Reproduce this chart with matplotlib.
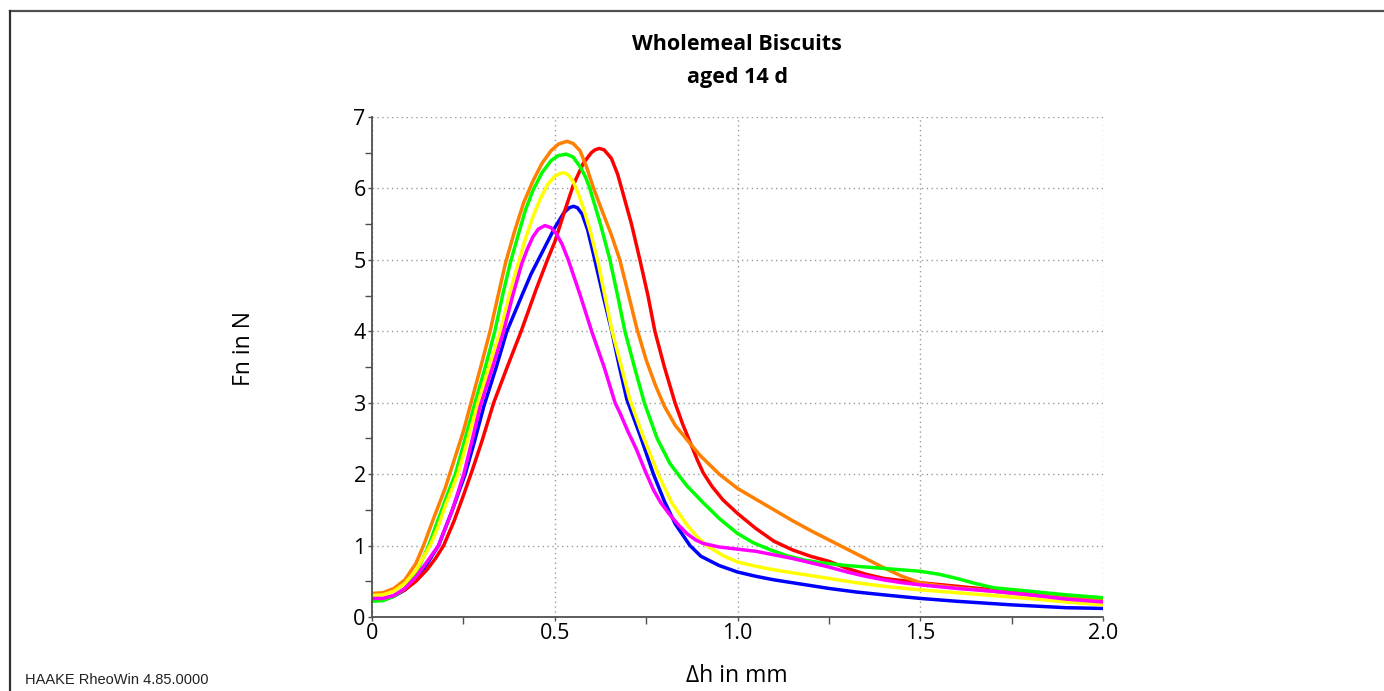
import matplotlib.pyplot as plt
from matplotlib.lines import Line2D
from matplotlib.ticker import MultipleLocator

# Fn vs. deformation curves, one per biscuit sample
orange_x = [0, 0.03, 0.06, 0.09, 0.12, 0.141, 0.17, 0.2, 0.225, 0.25, 0.271, 0.3, 0.323,
            0.345, 0.365, 0.39, 0.415, 0.44, 0.465, 0.49, 0.51, 0.533, 0.55, 0.569, 0.587,
            0.605, 0.63, 0.655, 0.678, 0.7, 0.724, 0.75, 0.775, 0.8, 0.83, 0.87, 0.9,
            0.95, 1.0, 1.05, 1.1, 1.15, 1.2, 1.25, 1.3, 1.35, 1.4, 1.45, 1.5, 1.55, 1.6,
            1.7, 1.8, 1.9, 2.0]
orange_y = [0.33, 0.34, 0.40, 0.52, 0.75, 1.0, 1.4, 1.8, 2.2, 2.6, 3.0, 3.55, 4.0,
            4.5, 4.95, 5.4, 5.8, 6.1, 6.35, 6.53, 6.62, 6.66, 6.63, 6.53, 6.3,
            6.02, 5.68, 5.35, 5.0, 4.55, 4.05, 3.6, 3.25, 2.95, 2.68, 2.43, 2.25,
            2.0, 1.8, 1.65, 1.5, 1.35, 1.21, 1.08, 0.95, 0.82, 0.69, 0.57, 0.48, 0.44, 0.41,
            0.36, 0.31, 0.27, 0.24]

red_x = [0, 0.03, 0.06, 0.09, 0.12, 0.15, 0.175, 0.196, 0.225, 0.25, 0.274, 0.3, 0.333,
         0.37, 0.408, 0.45, 0.48, 0.5, 0.525, 0.551, 0.578, 0.6, 0.61, 0.622, 0.635, 0.655,
         0.672, 0.683, 0.71, 0.733, 0.755, 0.774, 0.8, 0.829, 0.85, 0.87, 0.89, 0.906, 0.93,
         0.96, 1.0, 1.05, 1.1, 1.15, 1.2, 1.25, 1.3, 1.35, 1.4, 1.45, 1.5, 1.6, 1.7,
         1.8, 1.9, 2.0]
red_y = [0.25, 0.25, 0.30, 0.38, 0.50, 0.66, 0.83, 1.0, 1.35, 1.7, 2.05, 2.45, 3.0,
         3.5, 4.0, 4.6, 5.0, 5.25, 5.65, 6.05, 6.35, 6.5, 6.54, 6.56, 6.54, 6.42,
         6.2, 6.0, 5.5, 5.0, 4.5, 4.0, 3.5, 3.0, 2.7, 2.45, 2.2, 2.02, 1.83,
         1.64, 1.45, 1.24, 1.06, 0.94, 0.85, 0.78, 0.68, 0.60, 0.54, 0.51, 0.48, 0.43, 0.38,
         0.32, 0.27, 0.22]

green_x = [0, 0.03, 0.06, 0.09, 0.12, 0.155, 0.18, 0.205, 0.228, 0.255, 0.282, 0.31, 0.336,
           0.357, 0.378, 0.4, 0.42, 0.44, 0.465, 0.49, 0.51, 0.531, 0.55, 0.57, 0.585,
           0.596, 0.625, 0.651, 0.672, 0.692, 0.718, 0.745, 0.78, 0.815, 0.84, 0.861,
           0.906, 0.952, 1.0, 1.043, 1.09, 1.134, 1.18, 1.226, 1.3, 1.4, 1.45, 1.5, 1.55,
           1.6, 1.65, 1.7, 1.8, 1.9, 2.0]
green_y = [0.22, 0.23, 0.29, 0.40, 0.60, 1.0, 1.35, 1.7, 2.0, 2.5, 3.0, 3.5, 4.0,
           4.5, 4.95, 5.35, 5.7, 5.97, 6.22, 6.39, 6.46, 6.48, 6.44, 6.3, 6.15,
           6.0, 5.5, 5.0, 4.5, 4.0, 3.5, 3.0, 2.5, 2.15, 1.98, 1.84,
           1.6, 1.37, 1.17, 1.04, 0.94, 0.86, 0.80, 0.76, 0.72, 0.68, 0.66, 0.64, 0.60,
           0.54, 0.47, 0.41, 0.36, 0.31, 0.27]

yellow_x = [0, 0.03, 0.06, 0.09, 0.12, 0.159, 0.18, 0.2, 0.235, 0.26, 0.29, 0.32, 0.351,
            0.375, 0.4, 0.42, 0.44, 0.46, 0.48, 0.5, 0.515, 0.525, 0.537, 0.55, 0.565, 0.58,
            0.6, 0.619, 0.637, 0.656, 0.68, 0.705, 0.74, 0.783, 0.82, 0.86, 0.89, 0.916,
            0.96, 1.0, 1.05, 1.1, 1.175, 1.25, 1.325, 1.4, 1.5, 1.6, 1.75, 1.9, 2.0]
yellow_y = [0.30, 0.31, 0.36, 0.47, 0.65, 1.0, 1.25, 1.55, 2.0, 2.45, 3.0, 3.5, 4.0,
            4.5, 4.95, 5.3, 5.6, 5.85, 6.05, 6.17, 6.21, 6.22, 6.19, 6.1, 5.92, 5.7,
            5.35, 4.95, 4.5, 4.02, 3.55, 3.05, 2.55, 2.0, 1.6, 1.3, 1.12, 1.0,
            0.86, 0.77, 0.71, 0.66, 0.60, 0.54, 0.48, 0.43, 0.38, 0.34, 0.28, 0.21, 0.17]

blue_x = [0, 0.03, 0.06, 0.09, 0.12, 0.15, 0.182, 0.22, 0.255, 0.28, 0.306, 0.34, 0.369,
          0.41, 0.435, 0.46, 0.5, 0.525, 0.54, 0.551, 0.562, 0.575, 0.59, 0.605, 0.63,
          0.656, 0.677, 0.697, 0.733, 0.77, 0.8, 0.83, 0.87, 0.9, 0.95, 1.0, 1.05, 1.1,
          1.175, 1.25, 1.325, 1.4, 1.5, 1.6, 1.75, 1.9, 2.0]
blue_y = [0.24, 0.24, 0.29, 0.38, 0.52, 0.74, 1.0, 1.5, 2.0, 2.45, 2.95, 3.5, 4.0,
          4.5, 4.8, 5.05, 5.45, 5.66, 5.73, 5.75, 5.73, 5.64, 5.42, 5.1, 4.55,
          4.0, 3.5, 3.05, 2.55, 2.0, 1.62, 1.3, 1.0, 0.85, 0.72, 0.63, 0.57, 0.52,
          0.46, 0.40, 0.35, 0.31, 0.26, 0.22, 0.17, 0.13, 0.12]

magenta_x = [0, 0.03, 0.06, 0.09, 0.12, 0.15, 0.182, 0.22, 0.251, 0.275, 0.296, 0.33, 0.36,
             0.385, 0.41, 0.425, 0.44, 0.455, 0.473, 0.49, 0.505, 0.52, 0.537, 0.57, 0.601,
             0.635, 0.665, 0.679, 0.7, 0.724, 0.747, 0.77, 0.79, 0.815, 0.84, 0.861, 0.885,
             0.906, 0.95, 1.0, 1.05, 1.1, 1.15, 1.2, 1.25, 1.3, 1.35, 1.4, 1.45, 1.5, 1.6,
             1.7, 1.8, 1.9, 2.0]
magenta_y = [0.26, 0.26, 0.30, 0.40, 0.56, 0.77, 1.0, 1.5, 2.0, 2.5, 2.95, 3.5, 4.0,
             4.5, 4.95, 5.15, 5.32, 5.43, 5.48, 5.45, 5.36, 5.22, 5.0, 4.5, 4.0,
             3.5, 3.0, 2.85, 2.6, 2.34, 2.05, 1.78, 1.6, 1.43, 1.28, 1.17, 1.08,
             1.03, 0.98, 0.95, 0.92, 0.87, 0.82, 0.76, 0.70, 0.63, 0.57, 0.52, 0.48, 0.45, 0.40,
             0.36, 0.31, 0.25, 0.21]

x_ticks = [0, 0.5, 1.0, 1.5, 2.0]
x_labels = ["0", "0.5", "1.0", "1.5", "2.0"]
y_ticks = [0, 1, 2, 3, 4, 5, 6, 7]

fig = plt.figure(figsize=(13.84, 6.91), dpi=100)
ax = fig.add_axes([372 / 1384, 1 - 617 / 691, 731 / 1384, 500 / 691])

lw = 2.5
ax.plot(blue_x, blue_y, color="#0000ff", lw=lw)
ax.plot(red_x, red_y, color="#ff0000", lw=lw)
ax.plot(orange_x, orange_y, color="#ff8000", lw=lw)
ax.plot(green_x, green_y, color="#00ff00", lw=lw)
ax.plot(yellow_x, yellow_y, color="#ffff00", lw=lw)
ax.plot(magenta_x, magenta_y, color="#ff00ff", lw=lw)

ax.set_xlim(0, 2.0)
ax.set_ylim(0, 7)
ax.set_xticks(x_ticks)
ax.set_xticklabels(x_labels)
ax.set_yticks(y_ticks)
ax.xaxis.set_minor_locator(MultipleLocator(0.25))
ax.yaxis.set_minor_locator(MultipleLocator(0.5))
ax.tick_params(which="major", length=3, width=1, color="#505050", labelsize=15.5, pad=1.5)
ax.tick_params(which="minor", length=5, width=1, color="#505050")
for lbl in ax.get_xticklabels() + ax.get_yticklabels():
    lbl.set_fontfamily("Open Sans")

ax.grid(True, which="major", color="#9a9a9a", linestyle=(0, (1, 2.5)), lw=1)
ax.spines["top"].set_visible(False)
ax.spines["right"].set_visible(False)
for s in ("left", "bottom"):
    ax.spines[s].set_color("#505050")
    ax.spines[s].set_linewidth(1.3)

fig.text(737 / 1384, 1 - 44 / 691, "Wholemeal Biscuits", ha="center", va="center",
         fontsize=15.5, fontweight="bold", family="Open Sans")
fig.text(737 / 1384, 1 - 77 / 691, "aged 14 d", ha="center", va="center",
         fontsize=15.5, fontweight="bold", family="Open Sans")
fig.text(244 / 1384, 1 - 348 / 691, "Fn in N", ha="center", va="center",
         rotation=90, fontsize=16.5, family="Open Sans")
fig.text(737 / 1384, 1 - 676 / 691, "Δh in mm", ha="center", va="center",
         fontsize=16.5, family="Open Sans")
fig.text(25 / 1384, 1 - 680 / 691, "HAAKE RheoWin 4.85.0000", ha="left", va="center",
         fontsize=10.5, family="Liberation Sans", color="#222222")

# outer frame: top and left edges only
fig.add_artist(Line2D([9.5 / 1384, 1], [1 - 10.5 / 691, 1 - 10.5 / 691],
                      transform=fig.transFigure, color="#505050", lw=1.6))
fig.add_artist(Line2D([9.5 / 1384, 9.5 / 1384], [0, 1 - 10.5 / 691],
                      transform=fig.transFigure, color="#303030", lw=1.6))

fig.savefig("out.png", dpi=100)
